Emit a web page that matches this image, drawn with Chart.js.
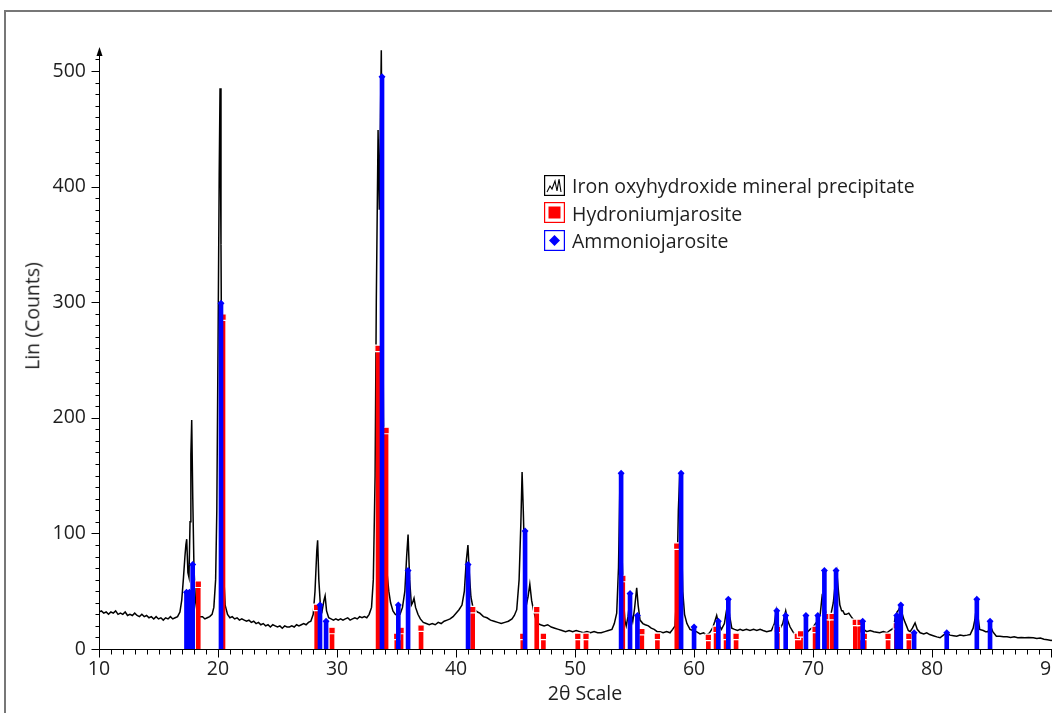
<!DOCTYPE html>
<html>
<head>
<meta charset="utf-8">
<script src="https://cdn.jsdelivr.net/npm/chart.js@4.4.0/dist/chart.umd.min.js"></script>
<style>
html,body{margin:0;padding:0;width:1052px;height:713px;overflow:hidden;background:#fff;}
#frame{position:absolute;left:4px;top:10px;width:1200px;height:900px;border-left:2px solid #777;border-top:2px solid #777;}
#wrap{position:absolute;left:0;top:0;width:1100px;height:713px;}
.txt{position:absolute;font-family:"Open Sans",sans-serif;font-size:19.5px;color:#1e1e1e;white-space:nowrap;line-height:1;}
#ytitle{left:32px;top:316px;transform:translate(-50%,-50%) rotate(-90deg);}
#xtitle{left:585px;top:693px;transform:translate(-50%,-50%);}
.licon{position:absolute;left:544px;width:21px;height:21px;}
.ltext{position:absolute;left:572px;font-family:"Open Sans",sans-serif;font-size:19.5px;color:#1e1e1e;white-space:nowrap;line-height:27px;height:27px;}
</style>
</head>
<body>
<div id="frame"></div>
<div id="wrap"><canvas id="c" width="1100" height="713"></canvas></div>
<div id="ytitle" class="txt">Lin (Counts)</div>
<div id="xtitle" class="txt">2θ Scale</div>
<svg class="licon" style="top:175px" viewBox="0 0 21 21"><rect x="0.6" y="0.6" width="19.8" height="19.8" fill="#fff" stroke="#000" stroke-width="1.2"/><polyline points="3,17 6,11 8,14 11,6 13,16 15,4 17,17" fill="none" stroke="#000" stroke-width="1.1"/></svg>
<svg class="licon" style="top:202px" viewBox="0 0 21 21"><rect x="0.6" y="0.6" width="19.8" height="19.8" fill="#fff" stroke="#f00" stroke-width="1.2"/><rect x="4.5" y="4.5" width="12" height="12" fill="#f00"/></svg>
<svg class="licon" style="top:230px" viewBox="0 0 21 21"><rect x="0.6" y="0.6" width="19.8" height="19.8" fill="#fff" stroke="#00f" stroke-width="1.2"/><polygon points="10.5,5 16,10.5 10.5,16 5,10.5" fill="#00f"/></svg>
<div id="l0" class="ltext" style="top:172px"></div>
<div id="l1" class="ltext" style="top:199.5px"></div>
<div id="l2" class="ltext" style="top:227px"></div>
<script>
// ---------- data ----------
const seriesNames = ['Iron oxyhydroxide mineral precipitate', 'Hydroniumjarosite', 'Ammoniojarosite'];
const xTickValues = [10, 20, 30, 40, 50, 60, 70, 80, 90];
const yTickValues = [0, 100, 200, 300, 400, 500];

// measured pattern: [2θ, counts]
const patternPoints = [
[10,32],[10.2,33],[10.4,31],[10.6,32],[10.8,30],[11,32],[11.2,31],[11.4,33],[11.6,30],[11.8,31],
[12,30],[12.2,32],[12.4,29],[12.6,30],[12.8,29],[13,31],[13.2,29],[13.4,28],[13.6,30],[13.8,28],
[14,29],[14.2,27],[14.4,28],[14.6,26],[14.8,28],[15,26],[15.2,27],[15.4,25],[15.6,27],[15.8,26],
[16,28],[16.2,26],[16.4,27],[16.6,28],[16.8,32],[16.95,42],[17.1,62],[17.22,80],[17.3,90],[17.37,95],
[17.47,66],[17.56,62],[17.65,110],[17.72,168],[17.79,198],[17.88,130],[17.98,70],[18.1,42],[18.25,32],[18.45,28],
[18.7,28],[18.9,26],[19.1,27],[19.3,28],[19.5,30],[19.65,36],[19.8,60],[19.9,120],[20,260],[20.1,410],
[20.17,485],[20.25,350],[20.35,150],[20.45,70],[20.6,38],[20.8,30],[21,27],[21.2,28],[21.4,26],[21.6,27],
[21.8,25],[22,26],[22.2,25],[22.4,24],[22.6,25],[22.8,23],[23,24],[23.2,22],[23.4,23],[23.6,21],
[23.8,22],[24,20],[24.2,21],[24.4,19],[24.6,21],[24.8,20],[25,19],[25.2,20],[25.4,18],[25.6,20],
[25.8,19],[26,19],[26.2,20],[26.4,19],[26.6,21],[26.8,20],[27,21],[27.2,22],[27.4,21],[27.6,23],
[27.8,24],[28,30],[28.15,50],[28.3,85],[28.37,94],[28.47,60],[28.6,38],[28.75,33],[28.9,42],[29,46],
[29.12,33],[29.3,27],[29.5,26],[29.7,25],[29.9,26],[30.1,25],[30.3,26],[30.5,25],[30.7,26],[30.9,27],
[31.1,25],[31.3,26],[31.5,27],[31.7,26],[31.9,28],[32.1,27],[32.3,28],[32.5,27],[32.7,30],[32.9,36],
[33.05,60],[33.2,150],[33.3,300],[33.45,449],[33.55,380],[33.65,460],[33.72,518],[33.8,400],[33.9,200],[34,110],
[34.1,70],[34.2,66],[34.35,50],[34.5,40],[34.7,33],[34.9,30],[35.1,29],[35.3,30],[35.5,36],[35.7,50],
[35.85,80],[35.97,99],[36.1,60],[36.25,38],[36.35,40],[36.47,44],[36.6,36],[36.8,30],[37,26],[37.25,23],
[37.5,22],[37.75,21],[38,22],[38.25,21],[38.5,23],[38.75,22],[39,24],[39.25,25],[39.5,26],[39.75,28],
[40,31],[40.25,34],[40.5,38],[40.7,50],[40.85,75],[41,90],[41.12,65],[41.25,45],[41.4,37],[41.6,34],
[41.8,32],[42,31],[42.3,28],[42.6,27],[42.9,25],[43.2,24],[43.5,23],[43.8,22],[44.1,23],[44.4,24],
[44.7,26],[44.9,29],[45.1,34],[45.3,60],[45.45,110],[45.55,153],[45.65,120],[45.8,60],[45.95,40],[46.05,45],
[46.2,56],[46.35,42],[46.5,34],[46.7,26],[46.9,22],[47.1,21],[47.4,20],[47.7,21],[48,19],[48.3,18],
[48.6,17],[48.9,16],[49.2,15],[49.5,16],[49.8,15],[50.1,16],[50.4,15],[50.7,14],[51,15],[51.3,14],
[51.6,15],[51.9,14],[52.2,14],[52.5,15],[52.8,16],[53.1,17],[53.3,22],[53.5,31],[53.65,70],[53.78,150],
[53.9,100],[54.05,45],[54.2,24],[54.3,20],[54.45,28],[54.6,42],[54.72,30],[54.85,24],[55,35],[55.18,53],
[55.3,38],[55.46,25],[55.7,22],[55.9,21],[56.16,20],[56.4,18],[56.65,17],[56.9,15],[57.14,15],[57.4,14],
[57.7,15],[57.98,14],[58.2,17],[58.4,20],[58.55,50],[58.68,120],[58.8,152],[58.92,110],[59.05,50],[59.2,30],
[59.4,22],[59.66,17],[59.9,16],[60.2,15],[60.5,13],[60.8,14],[61.06,12],[61.3,14],[61.55,18],[61.75,24],
[61.9,29],[62.05,22],[62.3,17],[62.55,22],[62.7,32],[62.85,40],[63,28],[63.17,18],[63.4,17],[63.65,16],
[63.87,17],[64.1,16],[64.4,17],[64.7,16],[65,17],[65.27,16],[65.55,17],[65.8,16],[66.1,15],[66.5,16],
[66.75,22],[66.9,33],[67.05,22],[67.2,17],[67.45,22],[67.7,33],[67.85,25],[68.07,19],[68.3,15],[68.6,11],
[68.9,12],[69.1,13],[69.33,12.5],[69.55,15],[69.75,17],[70,19],[70.2,22],[70.45,25.5],[70.6,30],[70.75,45],
[70.9,40],[71.1,30],[71.3,28],[71.5,30],[71.7,40],[71.85,55],[72,66],[72.15,48],[72.25,38],[72.4,33],
[72.5,33],[72.65,30],[72.8,30],[73,31],[73.2,28],[73.5,24],[73.75,21],[74,19],[74.25,17],[74.5,15],
[74.8,16],[75.1,15],[75.35,14.5],[75.6,14],[75.9,15],[76.2,14],[76.45,16],[76.75,18],[76.9,27],[77.05,32],
[77.2,34],[77.35,37],[77.5,30],[77.65,25],[77.85,20],[78,16],[78.15,15],[78.35,18],[78.57,22.6],[78.75,17],
[79,14],[79.3,13],[79.55,14],[79.8,12.5],[80.1,11.5],[80.4,10.5],[80.67,9.7],[80.95,12],[81.23,14],[81.5,12],
[81.8,11.5],[82.07,11],[82.35,12],[82.65,11.5],[82.95,12],[83.2,12.5],[83.45,18],[83.6,25.5],[83.76,40],[83.88,26],
[84,17],[84.3,16],[84.5,15],[84.7,15],[84.9,20],[85.1,15],[85.4,11],[85.7,11],[86,10.5],[86.3,10.5],
[86.6,10],[86.9,10.5],[87.2,9.7],[87.5,10],[87.8,9.7],[88.1,10],[88.5,9.7],[88.8,9],[89.1,9.5],[89.4,8.5],
[89.7,8],[90,7.3],[90.3,8],[90.6,7.5],[91,7]
];

// Hydroniumjarosite reference sticks
const hydroTheta  = [17.45, 18.34, 20.42, 28.29, 29.58, 33.45, 34.12, 35.02, 35.38, 37.06, 41.40, 45.61, 46.78, 47.34, 50.23, 50.92, 54.01, 55.61, 56.92, 58.55, 61.20, 61.85, 62.69, 63.53, 67.00, 68.68, 68.95, 70.17, 71.15, 71.60, 73.55, 73.95, 74.30, 76.30, 77.00, 78.05];
const hydroCounts = [47,    56,    287,   36,    16,    260,   189,   11,    16,    18,    34,    11,    34,    11,    11,    11,    61,    15,    11,    89,    10,    17,    11,    11,    17,    11,    13,    17,    28,    28,    23,    23,    11,    11,    20,    11];

// Ammoniojarosite reference sticks
const ammonTheta  = [17.35, 17.60, 17.87, 20.25, 28.57, 29.08, 33.78, 35.15, 35.97, 41.01, 45.80, 53.87, 54.62, 55.24, 58.91, 60.00, 62.04, 62.88, 66.95, 67.70, 69.40, 70.40, 70.95, 71.93, 74.17, 77.03, 77.37, 78.49, 81.23, 83.76, 84.87];
const ammonCounts = [49,    49,    73,    299,   38,    24,    495,   38,    68,    73,    102,   152,   48,    29,    152,   19,    24,    43,    33,    29,    29,    29,    68,    68,    24,    29,    38,    14,    14,    43,    24];

// ---------- chart ----------
const FONT = 'Open Sans';
const pairs = (xs, ys) => xs.map((x, i) => ({ x: x, y: ys[i] }));

document.getElementById('l0').textContent = seriesNames[0];
document.getElementById('l1').textContent = seriesNames[1];
document.getElementById('l2').textContent = seriesNames[2];

const axisDecor = {
  id: 'axisDecor',
  afterDatasetsDraw(chart) {
    const { ctx, chartArea, scales } = chart;
    const x = scales.x, y = scales.y;
    const ax = Math.round(chartArea.left) + 0.5;
    const ay = Math.round(y.getPixelForValue(0)) + 0.5;
    ctx.save();
    ctx.strokeStyle = '#000';
    ctx.lineWidth = 1;
    ctx.beginPath();
    ctx.moveTo(ax, chartArea.top + 2);
    ctx.lineTo(ax, ay);
    ctx.lineTo(chart.width, ay);
    for (let v = 0; v <= y.max; v += 10) {
      const p = Math.round(y.getPixelForValue(v)) + 0.5;
      const len = v % 100 === 0 ? 8 : 4;
      ctx.moveTo(ax - len, p); ctx.lineTo(ax, p);
    }
    for (let v = 10; v <= x.max; v += 1) {
      const p = Math.round(x.getPixelForValue(v)) + 0.5;
      const len = v % 10 === 0 ? 8 : 5;
      ctx.moveTo(p, ay); ctx.lineTo(p, ay + len);
    }
    ctx.stroke();
    ctx.fillStyle = '#000';
    ctx.beginPath();
    ctx.moveTo(ax, chartArea.top - 2);
    ctx.lineTo(ax - 3, chartArea.top + 7);
    ctx.lineTo(ax + 3, chartArea.top + 7);
    ctx.closePath();
    ctx.fill();
    ctx.restore();
  }
};

new Chart(document.getElementById('c'), {
  type: 'scatter',
  data: {
    datasets: [
      { type: 'scatter', label: seriesNames[2] + ' marker', data: pairs(ammonTheta, ammonCounts),
        pointStyle: 'rectRot', pointRadius: 3.5, pointBackgroundColor: '#0000ff', pointBorderWidth: 0, order: 1 },
      { type: 'bar', label: seriesNames[2], data: pairs(ammonTheta, ammonCounts),
        backgroundColor: '#0000ff', barThickness: 4, grouped: false, order: 2 },
      { type: 'scatter', label: seriesNames[1] + ' marker', data: pairs(hydroTheta, hydroCounts),
        pointStyle: 'rect', pointRadius: 4.6, pointBackgroundColor: '#ff0000', pointBorderColor: '#ffffff', pointBorderWidth: 1.2, order: 3 },
      { type: 'bar', label: seriesNames[1], data: pairs(hydroTheta, hydroCounts),
        backgroundColor: '#ff0000', barThickness: 4, grouped: false, order: 4 },
      { type: 'line', label: seriesNames[0], data: patternPoints.map(p => ({ x: p[0], y: p[1] })),
        borderColor: '#000000', borderWidth: 1.5, pointRadius: 0, tension: 0, fill: false, order: 5 }
    ]
  },
  options: {
    responsive: false,
    animation: false,
    events: [],
    layout: { padding: { left: 0, top: 49, right: 37, bottom: 0 } },
    plugins: { legend: { display: false }, tooltip: { enabled: false }, title: { display: false } },
    scales: {
      x: {
        type: 'linear', min: 10, max: 91, offset: false,
        grid: { display: false, drawTicks: false }, border: { display: false },
        afterBuildTicks: s => { s.ticks = xTickValues.map(v => ({ value: v })); },
        afterFit: s => { s.height = 64; },
        ticks: { font: { family: FONT, size: 19.5 }, color: '#1e1e1e', padding: 9, maxRotation: 0, autoSkip: false }
      },
      y: {
        type: 'linear', min: 0, max: 519,
        grid: { display: false, drawTicks: false }, border: { display: false },
        afterBuildTicks: s => { s.ticks = yTickValues.map(v => ({ value: v })); },
        afterFit: s => { s.width = 99; },
        ticks: { font: { family: FONT, size: 19.5 }, color: '#1e1e1e', padding: 13, autoSkip: false }
      }
    }
  },
  plugins: [axisDecor]
});
</script>
</body>
</html>
